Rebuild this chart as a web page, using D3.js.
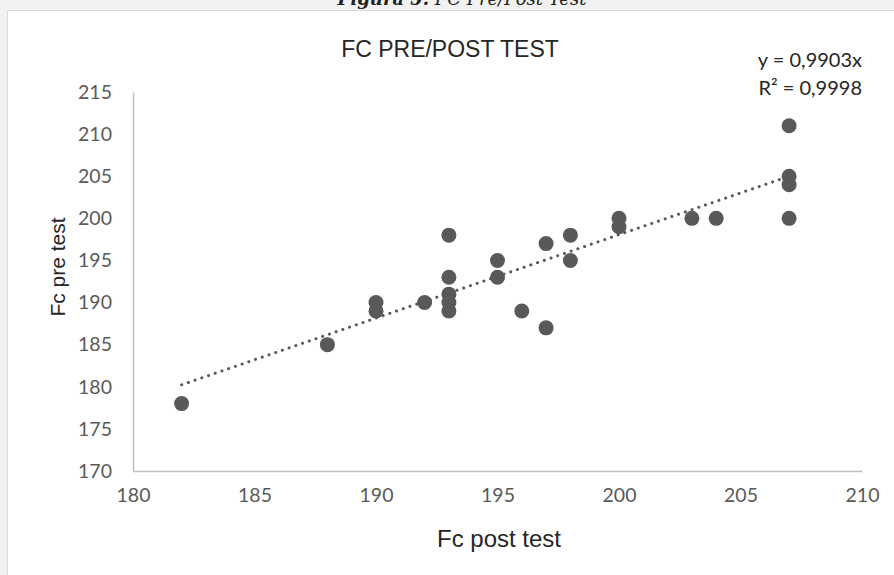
<!DOCTYPE html>
<html lang="es">
<head>
<meta charset="UTF-8">
<title>FC PRE/POST TEST</title>
<script src="https://d3js.org/d3.v7.min.js"></script>
<style>
  body { margin: 0; background: #f2f2f2; }
  svg { display: block; }
</style>
</head>
<body>
<svg id="chart" width="894" height="575"></svg>
<script>
// datos: frecuencia cardiaca post test (x) y pre test (y)
var fcPost = [182, 188, 190, 190, 192, 193, 193, 193, 193, 193, 195, 195, 196, 197, 197, 198, 198, 200, 200, 203, 204, 207, 207, 207, 207];
var fcPre  = [178, 185, 190, 189, 190, 198, 193, 191, 190, 189, 195, 193, 189, 197, 187, 198, 195, 200, 199, 200, 200, 211, 205, 204, 200];
var xTicks = [180, 185, 190, 195, 200, 205, 210];
var yTicks = [170, 175, 180, 185, 190, 195, 200, 205, 210, 215];
var slope = 0.9903;
var eqLines = ["y = 0,9903x", "R² = 0,9998"];

var svg = d3.select("#chart");

// caja blanca del gráfico
svg.append("rect")
    .attr("x", 7.5).attr("y", 10.5)
    .attr("width", 900).attr("height", 600)
    .attr("fill", "#fff")
    .attr("stroke", "#d9d9d9");

// leyenda de figura (cortada arriba)
var cap = svg.append("text")
    .attr("x", 462).attr("y", 5)
    .attr("text-anchor", "middle")
    .attr("font-family", "'DejaVu Serif', serif")
    .attr("font-size", "18px")
    .attr("font-style", "italic")
    .attr("fill", "#222");
cap.append("tspan").attr("font-weight", "bold").text("Figura 5.");
cap.append("tspan").text(" FC Pre/Post Test");

var x = d3.scaleLinear().domain([180, 210]).range([133, 862]);
var y = d3.scaleLinear().domain([170, 215]).range([471, 92]);

// ejes
var xAxis = svg.append("g")
    .attr("transform", "translate(0,471)")
    .call(d3.axisBottom(x).tickValues(xTicks).tickSize(0).tickPadding(17));
var yAxis = svg.append("g")
    .attr("transform", "translate(133,0)")
    .call(d3.axisLeft(y).tickValues(yTicks).tickSize(0).tickPadding(21));

[xAxis, yAxis].forEach(function(a) {
    a.select(".domain").attr("stroke", "#bfbfbf").attr("stroke-width", 1.5);
    a.selectAll("text")
        .attr("font-family", "Lato, 'Open Sans', sans-serif")
        .attr("font-size", "19.5px")
        .attr("fill", "#595959");
});
xAxis.selectAll("text").attr("dy", "0.71em");

// línea de tendencia
var tx = d3.extent(fcPost);
svg.append("line")
    .attr("x1", x(tx[0])).attr("y1", y(tx[0] * slope))
    .attr("x2", x(tx[1])).attr("y2", y(tx[1] * slope))
    .attr("stroke", "#595959")
    .attr("stroke-width", 3)
    .attr("stroke-linecap", "round")
    .attr("stroke-dasharray", "0.1 7");

// puntos
svg.selectAll(".pt")
    .data(fcPost)
    .enter().append("circle")
    .attr("class", "pt")
    .attr("cx", function(d) { return x(d); })
    .attr("cy", function(d, i) { return y(fcPre[i]); })
    .attr("r", 7.5)
    .attr("fill", "#595959");

// títulos
svg.append("text")
    .attr("x", 450).attr("y", 57)
    .attr("text-anchor", "middle")
    .attr("font-family", "'Liberation Sans', Arial, sans-serif")
    .attr("font-size", "23px")
    .attr("fill", "#262626")
    .text("FC PRE/POST TEST");

svg.append("text")
    .attr("x", 499).attr("y", 547)
    .attr("text-anchor", "middle")
    .attr("font-family", "'Liberation Sans', Arial, sans-serif")
    .attr("font-size", "24px")
    .attr("fill", "#262626")
    .text("Fc post test");

svg.append("text")
    .attr("transform", "translate(65,267) rotate(-90)")
    .attr("text-anchor", "middle")
    .attr("font-family", "'Liberation Sans', Arial, sans-serif")
    .attr("font-size", "21px")
    .attr("fill", "#262626")
    .text("Fc pre test");

// ecuación
svg.selectAll(".eq")
    .data(eqLines)
    .enter().append("text")
    .attr("class", "eq")
    .attr("x", 862)
    .attr("y", function(d, i) { return 67 + i * 28; })
    .attr("text-anchor", "end")
    .attr("font-family", "Lato, 'Open Sans', sans-serif")
    .attr("font-size", "20px")
    .attr("fill", "#262626")
    .text(function(d) { return d; });
</script>
</body>
</html>
